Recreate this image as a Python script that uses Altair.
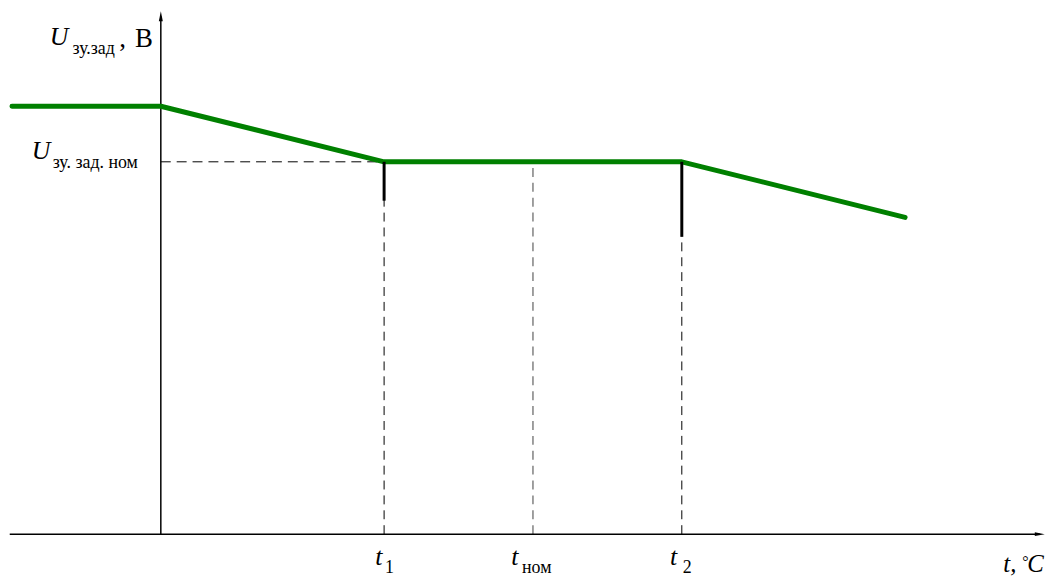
import altair as alt
import pandas as pd

# --- data (abstract units: t on x, U on y) ---
curve_t = [-2.0, 0.0, 3.0, 7.0, 10.0]
curve_u = [7.7, 7.7, 6.7, 6.7, 5.7]

t1, t_nom, t2 = 3.0, 5.0, 7.0
u_nom = 6.7
tick_t = [3.0, 7.0]
tick_end = [6.0, 5.35]

x_axis_span = [-2.03, 11.81]
y_axis_top = 9.32

X_DOM = [-2.0533, 11.8933]
Y_DOM = [-0.7143, 9.4286]

xs = alt.Scale(domain=X_DOM, nice=False, zero=False)
ys = alt.Scale(domain=Y_DOM, nice=False, zero=False)

def X(f="x"):
    return alt.X(f"{f}:Q", scale=xs, axis=None)

def Y(f="y"):
    return alt.Y(f"{f}:Q", scale=ys, axis=None)

# axes
xaxis = alt.Chart(pd.DataFrame({"x": [x_axis_span[0]], "x2": [x_axis_span[1]], "y": [0.0]})).mark_rule(
    color="black", strokeWidth=1.5).encode(x=X(), x2="x2:Q", y=Y())
yaxis = alt.Chart(pd.DataFrame({"x": [0.0], "y": [0.0], "y2": [y_axis_top]})).mark_rule(
    color="black", strokeWidth=1.5).encode(x=X(), y=Y(), y2="y2:Q")
arrow_up = alt.Chart(pd.DataFrame({"x": [0.0], "y": [y_axis_top]})).mark_point(
    shape="M -0.4 1 L 0 -1 L 0.4 1 Z", filled=True, color="black", opacity=1, size=100
).encode(x=X(), y=Y())
arrow_right = alt.Chart(pd.DataFrame({"x": [x_axis_span[1]], "y": [0.0]})).mark_point(
    shape="M -1 -0.4 L 1 0 L -1 0.4 Z", filled=True, color="black", opacity=1, size=100
).encode(x=X(), y=Y())

# dashed guides
hdash = alt.Chart(pd.DataFrame({"x": [0.0], "x2": [t1], "y": [u_nom]})).mark_rule(
    color="black", strokeWidth=1, strokeDash=[10, 6]).encode(x=X(), x2="x2:Q", y=Y())
vdash = alt.Chart(pd.DataFrame({"x": [t1, t2], "y": [0.0, 0.0], "y2": [u_nom, u_nom]})).mark_rule(
    color="black", strokeWidth=1, strokeDash=[9, 6]).encode(x=X(), y=Y(), y2="y2:Q")
vdash_nom = alt.Chart(pd.DataFrame({"x": [t_nom], "y": [0.0], "y2": [u_nom]})).mark_rule(
    color="#808080", strokeWidth=1.5, strokeDash=[9, 6]).encode(x=X(), y=Y(), y2="y2:Q")

# main curve
curve = alt.Chart(pd.DataFrame({"x": curve_t, "y": curve_u, "o": list(range(len(curve_t)))})).mark_line(
    color="#008000", strokeWidth=5, strokeCap="round", strokeJoin="round").encode(
    x=X(), y=Y(), order="o:Q")

# black ticks
ticks = alt.Chart(pd.DataFrame({"x": tick_t, "y": [u_nom, u_nom], "y2": tick_end})).mark_rule(
    color="black", strokeWidth=3).encode(x=X(), y=Y(), y2="y2:Q")

# labels
FONT = "Liberation Serif"
main_it = pd.DataFrame({
    "x": [-1.493, -1.733, 2.88, 4.707, 6.84],
    "y": [8.80, 6.75, -0.554, -0.554, -0.554],
    "text": ["U", "U", "t", "t", "t"],
})
subs = pd.DataFrame({
    "x": [-1.187, -1.453, 3.013, 4.853, 7.013],
    "y": [8.643, 6.589, -0.696, -0.696, -0.696],
    "text": ["зу.зад", "зу. зад. ном", "1", "ном", "2"],
})
upright = pd.DataFrame({"x": [-0.56, -0.347], "y": [8.768, 8.768], "text": [",", "В"]})
xlab = pd.DataFrame({"x": [11.32], "y": [-0.679], "text": ["t,"]})
deg = pd.DataFrame({"x": [11.573], "y": [-0.60], "text": ["°"]})
cee = pd.DataFrame({"x": [11.64], "y": [-0.679], "text": ["C"]})

def txt(df, size, style="normal", font=FONT):
    return alt.Chart(df).mark_text(
        font=font, fontSize=size, fontStyle=style, align="left", baseline="alphabetic", color="black"
    ).encode(x=X(), y=Y(), text="text:N")

labels = (txt(main_it, 26, "italic") + txt(subs, 18) + txt(upright, 27)
          + txt(xlab, 25, "italic") + txt(deg, 16) + txt(cee, 25, "italic"))

chart = alt.layer(
    hdash, vdash, vdash_nom, xaxis, yaxis, arrow_up, arrow_right, curve, ticks, labels
).properties(
    width=1046, height=568, autosize=alt.AutoSizeParams(type="none"), padding=0, background="white"
).configure_view(stroke=None)

chart.save("out.html", embed_options={"renderer": "svg", "actions": False})
